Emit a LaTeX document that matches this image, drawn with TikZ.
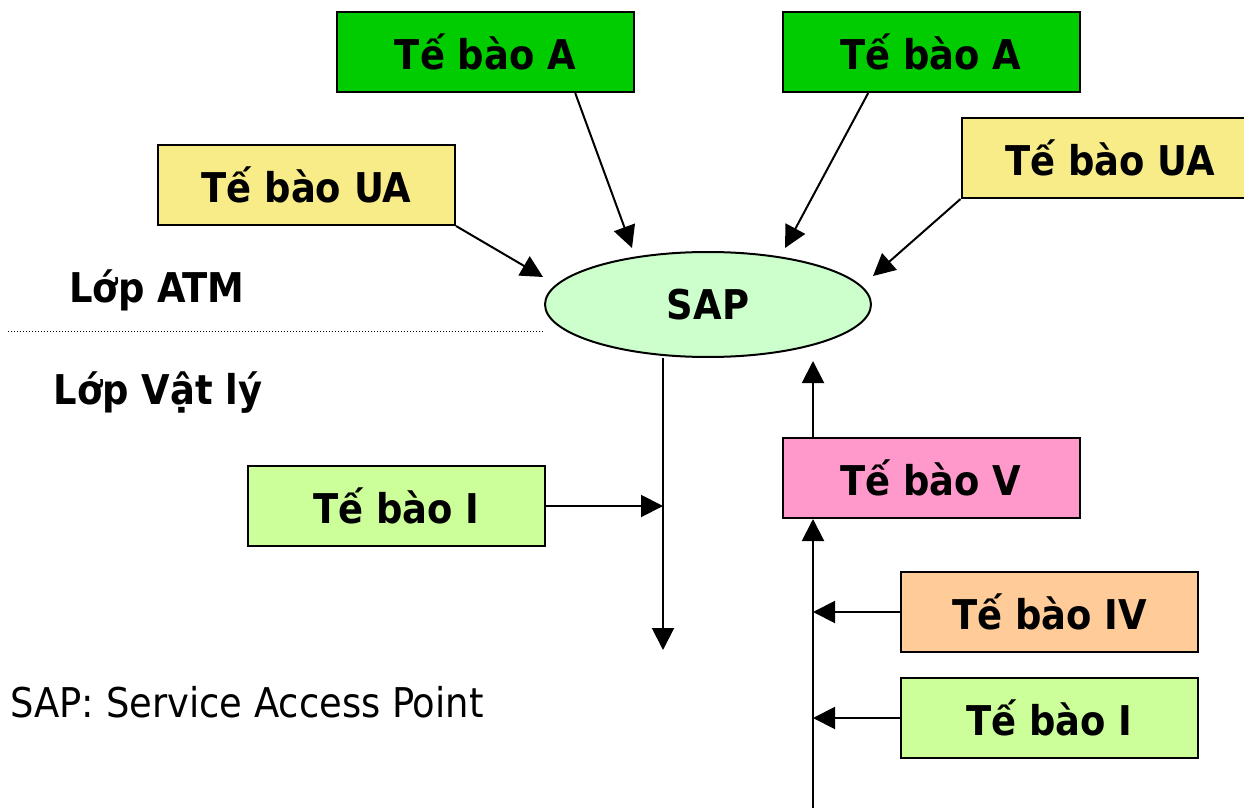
\documentclass[tikz,border=0pt]{standalone}
\usepackage{fontspec}
\setmainfont{DejaVu Sans Condensed}
\usetikzlibrary{arrows.meta,shapes.geometric,calc}

\definecolor{cellA}{HTML}{00CC00}
\definecolor{cellUA}{HTML}{F7EC87}
\definecolor{cellI}{HTML}{CCFF99}
\definecolor{cellV}{HTML}{FF99CC}
\definecolor{cellIV}{HTML}{FFCC99}
\definecolor{sapfill}{HTML}{CCFFCC}

\tikzset{cell/.style={draw, line width=1pt, minimum width=148.5pt, minimum height=40pt,
        inner sep=0pt, font=\bfseries\fontsize{20.5}{24}\selectfont},
    cell A/.style={cell, fill=cellA},
    cell UA/.style={cell, fill=cellUA},
    cell I/.style={cell, fill=cellI},
    cell V/.style={cell, fill=cellV},
    cell IV/.style={cell, fill=cellIV},
    sap point/.style={ellipse, draw, line width=1pt, fill=sapfill, inner sep=0pt,
        minimum width=163pt, minimum height=52.5pt, font=\bfseries\fontsize{20.5}{24}\selectfont},
    link/.style={line width=1pt, -{Triangle[length=11pt, width=11pt]}},
    layer label/.style={font=\bfseries\fontsize{20.5}{24}\selectfont},
    layer rule/.style={line width=0.5pt, dash pattern=on 0.5pt off 1pt},
    note/.style={anchor=base west, inner sep=0pt, font=\fontsize{20.5}{24}\selectfont},
}

\begin{document}
\begin{tikzpicture}[x=0.5pt, y=-0.5pt]
    \useasboundingbox (0,0) rectangle (1244,808);
    \clip (0,0) rectangle (1244,808);

    % service access point
    \node[sap point] (sap) at (708,304.5) {SAP};

    % ATM layer cells
    \node[cell A] (a1) at (485.5,52) {Tế bào A};
    \node[cell A] (a2) at (931,52) {Tế bào A};
    \node[cell UA] (ua1) at (306.5,185) {Tế bào UA};
    \node[cell UA] (ua2) at (1110,158) {Tế bào UA};

    % physical layer cells
    \node[cell I] (i1) at (396.5,506) {Tế bào I};
    \node[cell V] (v) at (931,478) {Tế bào V};
    \node[cell IV] (iv) at (1049.5,612) {Tế bào IV};
    \node[cell I] (i2) at (1049.5,718) {Tế bào I};

    % layer labels
    \node[layer label] (atm) at (157,290) {Lớp ATM};
    \node[layer label] (phy) at (158,393) {Lớp Vật lý};
    \coordinate (rule start) at (8,331);
    \draw[layer rule] (rule start) -- (rule start -| sap.west);

    \node[note] (legend) at (10,717) {SAP: Service Access Point};

    % arrow ends
    \coordinate (tip a1) at (632,248);
    \coordinate (tip a2) at (785,248);
    \coordinate (tip ua1) at (543,277);
    \coordinate (tip ua2) at (873,276);
    \coordinate (down end) at (663,650);
    \coordinate (up end) at (813,361);
    \coordinate (feed) at (813,808);

    % into the SAP
    \draw[link] ($(a1.south west)!0.8!(a1.south east)$) -- (tip a1);
    \draw[link] ($(a2.south west)!0.29!(a2.south east)$) -- (tip a2);
    \draw[link] (ua1.south east) -- (tip ua1);
    \draw[link] (ua2.south west) -- (tip ua2);

    % out of the SAP
    \draw[link] (sap.south -| down end) -- (down end);
    \draw[link] (i1.east) -- (i1.east -| down end);

    % up to the SAP
    \draw[link] (v.north -| up end) -- (up end);
    \draw[link] (feed) -- (v.south -| feed);
    \draw[link] (iv.west) -- (iv.west -| feed);
    \draw[link] (i2.west) -- (i2.west -| feed);
\end{tikzpicture}
\end{document}
